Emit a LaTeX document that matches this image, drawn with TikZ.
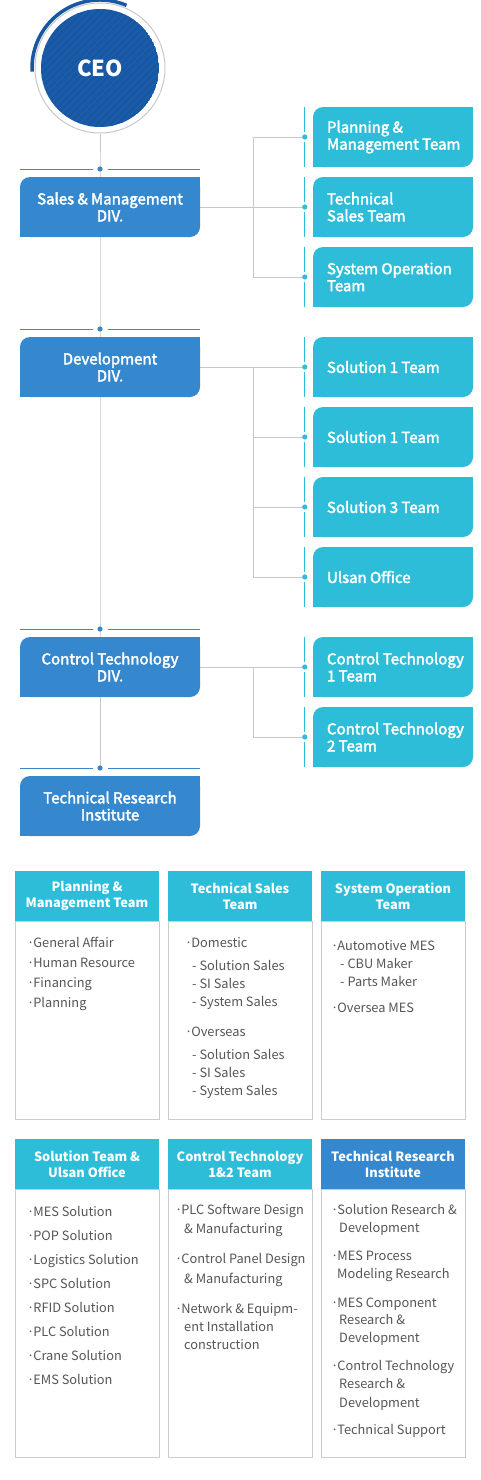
\documentclass[tikz,border=0pt]{standalone}
\usepackage{fontspec}
\newfontfamily\nk{Noto Sans CJK KR}
\newfontfamily\nkm[FakeBold=2.5]{Noto Sans CJK KR}
\usetikzlibrary{backgrounds,calc}
\definecolor{divblue}{HTML}{3587CE}
\definecolor{teamcyan}{HTML}{2EBDD8}
\definecolor{ceoblue}{HTML}{1757A3}
\definecolor{stripe}{HTML}{1F61AC}
\definecolor{lgray}{HTML}{C8C8C8}
\definecolor{bgray}{HTML}{CCCCCC}
\definecolor{txtgray}{HTML}{555555}
\newcommand\bul{\kern-3pt·\kern-1pt}
\begin{document}
\begin{tikzpicture}[x=1pt,y=-1pt,
  divbox/.style={rectangle, rounded corners=10pt, fill=divblue, minimum width=180pt, minimum height=60pt, inner sep=0pt, text=white, align=center, font=\nkm\fontsize{15}{17}\selectfont},
  teambox/.style={rectangle, rounded corners=10pt, fill=teamcyan, minimum width=160pt, minimum height=60pt, inner sep=0pt},
  teamtxt/.style={inner sep=0pt, text=white, align=left, anchor=west, font=\nkm\fontsize{15}{17}\selectfont},
  conn/.style={draw=lgray, line width=1pt},
  divline/.style={draw=divblue, line width=1pt},
  teamline/.style={draw=teamcyan, line width=1pt},
  hdr/.style={rectangle, fill=teamcyan, minimum width=144pt, minimum height=50pt, inner sep=0pt, text=white, align=center, font=\nk\bfseries\fontsize{12.8}{16}\selectfont},
  bodybox/.style={rectangle, draw=bgray, line width=1pt, minimum width=144pt, inner sep=0pt, anchor=north},
  item/.style={inner sep=0pt, anchor=base west, text=txtgray, font=\nk\fontsize{12.8}{16}\selectfont},
]
\useasboundingbox (0,0) rectangle (480,1480);

% CEO
\begin{scope}
  \clip (100,68) circle[radius=59];
  \fill[ceoblue] (100,68) circle[radius=59];
  \foreach \k in {-20,...,20} \draw[stripe, line width=0.8pt] ($(100,68)+(\k*7,0)+(-70,70)$) -- ++(140,-140);
\end{scope}
\node[circle, draw=lgray, line width=1pt, minimum size=130pt, inner sep=0pt, text=white, font=\nk\bfseries\fontsize{22}{24}\selectfont] (ceo) at (100,68) {CEO};
\draw[ceoblue, line width=3.5pt] ($(ceo.center)+(-67:68)$) arc[start angle=-67, end angle=-183, radius=68];

% divisions
\node[divbox] (sm) at (110,207) {Sales \& Management\\DIV.};
\node[divbox] (dev) at (110,367) {Development\\DIV.};
\node[divbox] (ctd) at (110,667) {Control Technology\\DIV.};
\node[divbox] (tri) at (110,806) {Technical Research\\Institute};
\foreach \n/\y in {sm/169,dev/329,ctd/629,tri/768}{
  \fill[divblue] (\n.north east) rectangle ++(-12,12);
  \fill[divblue] (\n.south west) rectangle ++(12,-12);
  \coordinate (\n-d) at (100,\y);
  \draw[divline] (20,\y) -- ($(\n-d)+(-7.5,0)$);
  \draw[divline] ($(\n-d)+(7.5,0)$) -- (200,\y);
}

% teams
\foreach \n/\y/\t in {pm/137/{Planning \&\\Management Team}, ts/207/{Technical\\Sales Team}, so/277/{System Operation\\Team},
  sa/367/{Solution 1 Team}, sb/437/{Solution 1 Team}, sc/507/{Solution 3 Team}, ul/577/{Ulsan Office},
  ca/667/{Control Technology\\1 Team}, cb/737/{Control Technology\\2 Team}}{
  \node[teambox] (\n) at (393,\y) {};
  \fill[teamcyan] (\n.north east) rectangle ++(-12,12);
  \fill[teamcyan] (\n.south west) rectangle ++(12,-12);
  \node[teamtxt] (\n-t) at ($(\n.west)+(14,0)$) {\t};
  \coordinate (\n-d) at ($(\n.west)+(-8,0)$);
  \draw[teamline] ($(\n.north west)+(-8,0)$) -- ($(\n-d)+(0,-5)$);
  \draw[teamline] ($(\n-d)+(0,5)$) -- ($(\n.south west)+(-8,0)$);
}

% connectors
\begin{scope}[on background layer]
  \draw[conn] (ceo.south) -- (sm-d) -- (dev-d) -- (ctd-d) -- (tri-d);
  \draw[conn] (sm.east) -- (ts-d);
  \draw[conn] (pm-d) -- ++(-51,0) |- (so-d);
  \draw[conn] (dev.east) -- (sa-d);
  \draw[conn] (sa-d) -- ++(-51,0) |- (ul-d);
  \draw[conn] (sb-d) -- ++(-51,0);
  \draw[conn] (sc-d) -- ++(-51,0);
  \draw[conn] (ctd.east) -- (ca-d);
  \draw[conn] (ca-d) -- ++(-51,0) |- (cb-d);
\end{scope}
\foreach \n in {sm,dev,ctd,tri} \fill[divblue] (\n-d) circle[radius=2.6];
\foreach \n in {pm,ts,so,sa,sb,sc,ul,ca,cb} \fill[teamcyan] (\n-d) circle[radius=2.6];

% tables
\node[hdr] (h1) at (87,896) {Planning \&\\Management Team};
\node[hdr] (h2) at (240,896) {Technical Sales\\Team};
\node[hdr] (h3) at (393,896) {System Operation\\Team};
\node[hdr] (h4) at (87,1164) {Solution Team \&\\Ulsan Office};
\node[hdr] (h5) at (240,1164) {Control Technology\\1\&2 Team};
\node[hdr, fill=divblue] (h6) at (393,1164) {Technical Research\\Institute};
\foreach \i in {1,2,3} \node[bodybox, minimum height=198pt] (b\i) at (h\i.south) {};
\foreach \i in {4,5,6} \node[bodybox, minimum height=268pt] (b\i) at (h\i.south) {};

\foreach \y/\x/\t [count=\i] in {947/30/{\bul General Affair}, 967/30/{\bul Human Resource}, 987/30/{\bul Financing}, 1007/30/{\bul Planning}}
  \node[item] (a\i) at (\x,\y) {\t};
\foreach \y/\x/\t [count=\i] in {947/188/{\bul Domestic}, 970/192/{- Solution Sales}, 988/192/{- SI Sales}, 1006/192/{- System Sales},
  1036/188/{\bul Overseas}, 1059/192/{- Solution Sales}, 1077/192/{- SI Sales}, 1095/192/{- System Sales}}
  \node[item] (b-\i) at (\x,\y) {\t};
\foreach \y/\x/\t [count=\i] in {950/334/{\bul Automotive MES}, 968/340/{- CBU Maker}, 986/340/{- Parts Maker}, 1012/334/{\bul Oversea MES}}
  \node[item] (c\i) at (\x,\y) {\t};
\foreach \y/\t [count=\i] in {1216/{\bul MES Solution}, 1240/{\bul POP Solution}, 1264/{\bul Logistics Solution}, 1288/{\bul SPC Solution},
  1312/{\bul RFID Solution}, 1336/{\bul PLC Solution}, 1360/{\bul Crane Solution}, 1384/{\bul EMS Solution}}
  \node[item] (d\i) at (30,\y) {\t};
\foreach \y/\x/\t [count=\i] in {1214/178/{\bul PLC Software Design}, 1233/184/{\& Manufacturing}, 1263/178/{\bul Control Panel Design},
  1283/184/{\& Manufacturing}, 1313/178/{\bul Network \& Equipm-}, 1331/184/{ent Installation}, 1349/184/{construction}}
  \node[item] (e\i) at (\x,\y) {\t};
\foreach \y/\x/\t [count=\i] in {1214/334/{\bul Solution Research \&}, 1232/339/{Development}, 1260/334/{\bul MES Process},
  1278/337/{Modeling Research}, 1307/334/{\bul MES Component}, 1324/339/{Research \&}, 1342/339/{Development},
  1370/334/{\bul Control Technology}, 1388/339/{Research \&}, 1407/339/{Development}, 1434/334/{\bul Technical Support}}
  \node[item] (f\i) at (\x,\y) {\t};
\end{tikzpicture}
\end{document}
